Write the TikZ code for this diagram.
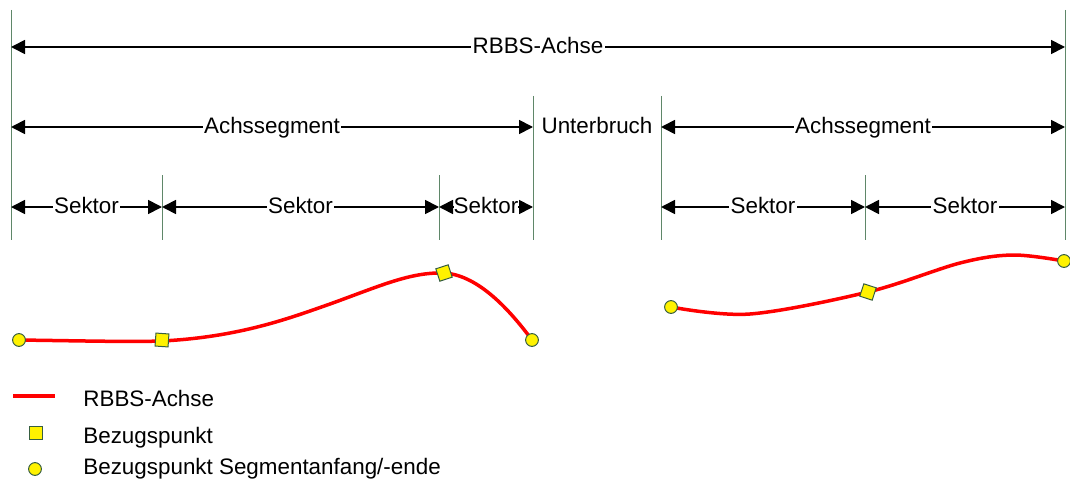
\documentclass[tikz,border=0pt]{standalone}
\usepackage{fontspec}
\setmainfont{Liberation Sans}
\usetikzlibrary{arrows.meta}
\definecolor{guide}{RGB}{95,135,105}
\definecolor{markeredge}{RGB}{55,95,65}
\definecolor{axisred}{RGB}{255,0,0}
\tikzset{
  guideline/.style={draw=guide, line width=0.5pt},
  dimline/.style={line width=0.85pt, {Triangle[length=7pt,width=7pt]}-{Triangle[length=7pt,width=7pt]}},
  lbl/.style={fill=white, inner xsep=0.6pt, inner ysep=0.5pt, anchor=base, yshift=-3.3pt, font=\fontsize{11.2pt}{13pt}\selectfont},
  legtxt/.style={anchor=base west, inner sep=0pt, font=\fontsize{11.2pt}{13pt}\selectfont},
  axisline/.style={draw=axisred, line width=1.75pt},
  endpt/.style={circle, draw=markeredge, fill=yellow, line width=0.5pt, minimum size=6.4pt, inner sep=0pt},
  refpt/.style={rectangle, draw=markeredge, fill=yellow, line width=0.5pt, minimum size=6.5pt, inner sep=0pt}
}
\begin{document}
\begin{tikzpicture}[x=0.5pt, y=-0.5pt]
  \useasboundingbox (0,0) rectangle (1070,481);

  % vertical boundary lines
  \draw[guideline] (11,10) -- (11,240);
  \draw[guideline] (1065,10) -- (1065,240);
  \draw[guideline] (533,96) -- (533,240);
  \draw[guideline] (661,96) -- (661,240);
  \draw[guideline] (162,175) -- (162,240);
  \draw[guideline] (439,175) -- (439,240);
  \draw[guideline] (865,175) -- (865,240);

  % dimension end points
  \coordinate (r0) at (11,47);   \coordinate (r1) at (1065,47);
  \coordinate (a0) at (11,127);  \coordinate (a1) at (533,127);
  \coordinate (b0) at (661,127); \coordinate (b1) at (1065,127);
  \coordinate (s0) at (11,207);  \coordinate (s1) at (162,207);
  \coordinate (s2) at (439,207); \coordinate (s3) at (533,207);
  \coordinate (t0) at (661,207); \coordinate (t1) at (865,207);
  \coordinate (t2) at (1065,207);

  % dimension arrows
  \draw[dimline] (r0) -- (r1) node[midway, lbl] (lr) {RBBS-Achse};
  \draw[dimline] (a0) -- (a1) node[midway, lbl] (la) {Achssegment};
  \draw[dimline] (b0) -- (b1) node[midway, lbl] (lb) {Achssegment};
  \node[lbl] (gap) at (597,127) {Unterbruch};
  \draw[dimline] (s0) -- (s1) node[midway, lbl] (ls1) {Sektor};
  \draw[dimline] (s1) -- (s2) node[midway, lbl] (ls2) {Sektor};
  \draw[dimline] (s2) -- (s3) node[midway, lbl, inner xsep=0pt] (ls3) {Sektor};
  \draw[dimline] (t0) -- (t1) node[midway, lbl] (lt1) {Sektor};
  \draw[dimline] (t1) -- (t2) node[midway, lbl] (lt2) {Sektor};

  % first axis segment
  \draw[axisline] (19,340) .. controls (90,341) and (130,342) .. (162,341)
    .. controls (240,337) and (290,318) .. (330,304)
    .. controls (380,286) and (410,272) .. (444,273)
    .. controls (476,275) and (506,305) .. (532,340);
  \node[endpt] (p1) at (19,340) {};
  \node[refpt, rotate=-4] (q1) at (162,340) {};
  \node[refpt, rotate=18] (q2) at (444,273) {};
  \node[endpt] (p2) at (532,340) {};

  % second axis segment
  \draw[axisline] plot[smooth, tension=0.55] coordinates
    {(671,307) (750,314) (868,292) (960,263) (1013,255) (1064,261)};
  \node[endpt] (p3) at (671,307) {};
  \node[refpt, rotate=-18] (q3) at (868,292) {};
  \node[endpt] (p4) at (1064,261) {};

  % legend
  \draw[axisred, line width=2pt] (13,396) -- (55,396);
  \node[legtxt] (k1) at (83,406) {RBBS-Achse};
  \node[refpt] (k2s) at (36,433) {};
  \node[legtxt] (k2) at (83,443) {Bezugspunkt};
  \node[endpt] (k3s) at (35,469) {};
  \node[legtxt] (k3) at (83,474) {Bezugspunkt Segmentanfang/-ende};
\end{tikzpicture}
\end{document}
